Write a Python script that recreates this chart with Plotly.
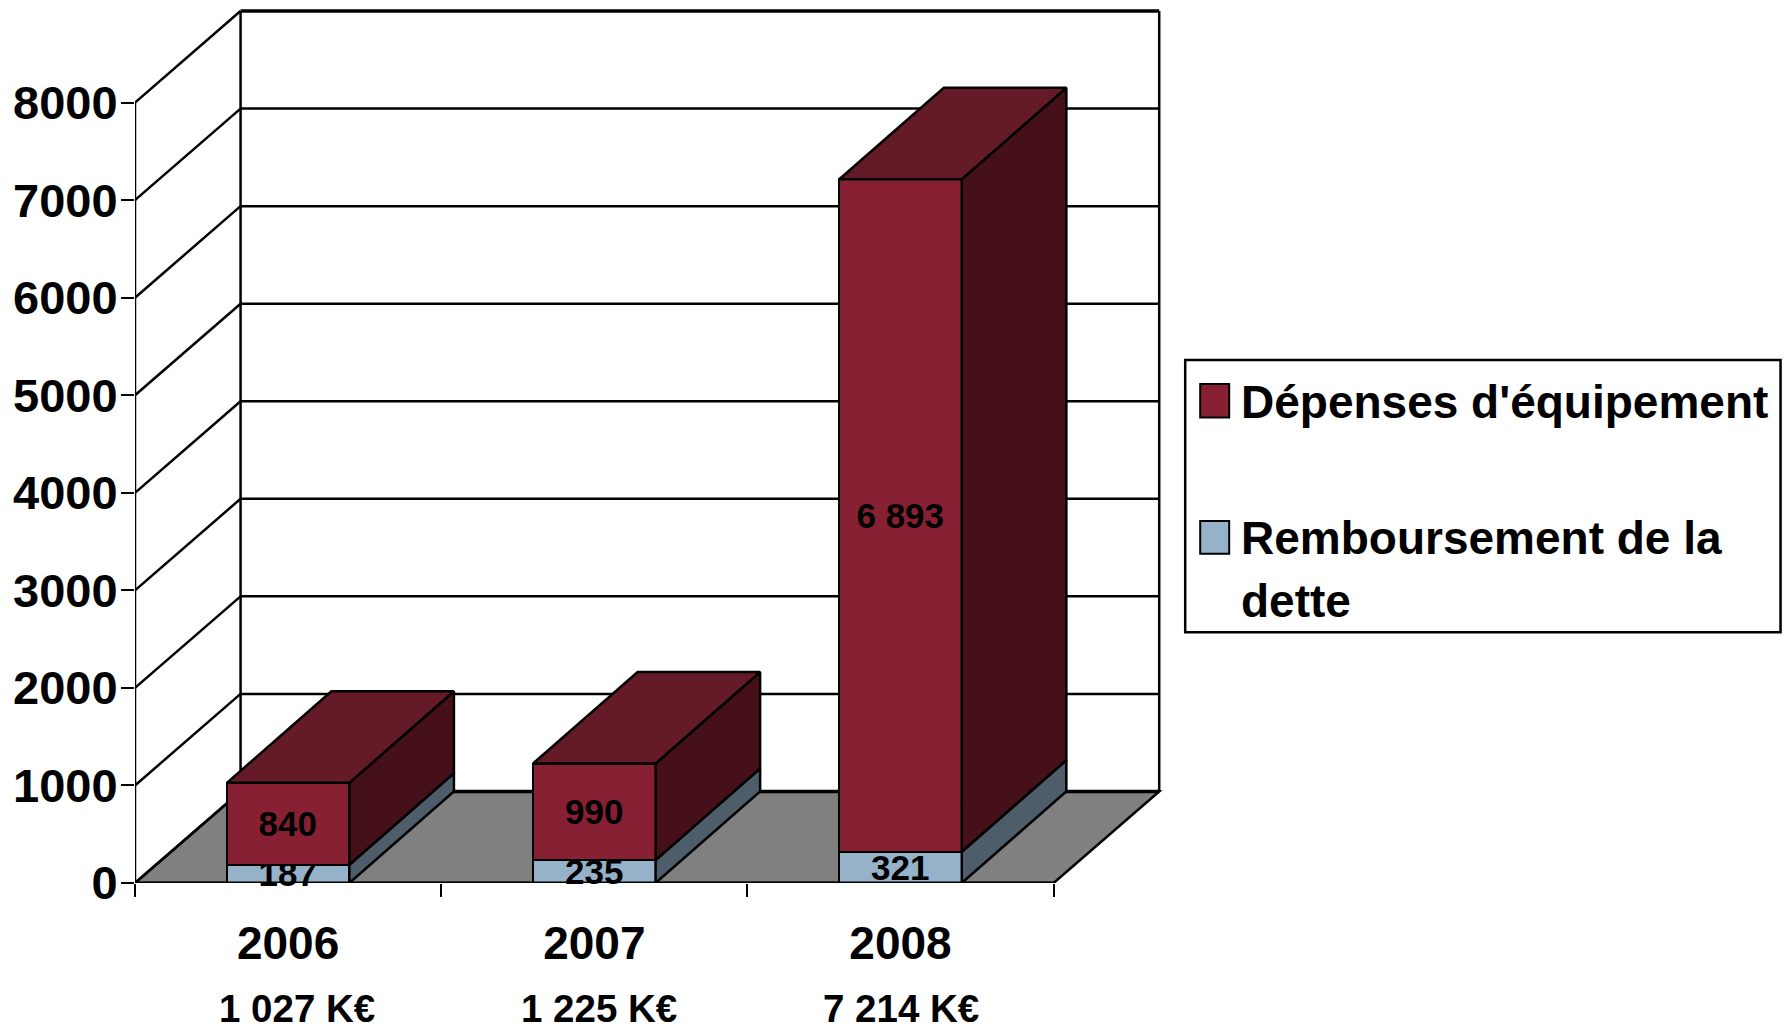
import plotly.graph_objects as go

# ---- data ----
years = ["2006", "2007", "2008"]
totals = ["1 027 K€", "1 225 K€", "7 214 K€"]
debt = [187, 235, 321]
equip = [840, 990, 6893]
equip_labels = ["840", "990", "6 893"]
debt_labels = ["187", "235", "321"]
y_ticks = [0, 1000, 2000, 3000, 4000, 5000, 6000, 7000, 8000]
legend_names = ["Dépenses d'équipement", "Remboursement de la", "dette"]

# ---- style ----
RED, RED_TOP, RED_SIDE = "#872033", "#641A27", "#451019"
BLUE, BLUE_SIDE = "#95B2C8", "#4D5D69"
FLOOR = "#808080"
FONT = "Liberation Sans"
W, H = 1789, 1032
PX_X0, PX_CAT = 134.5, 306.3       # left edge, pixels per category
PX_Y0, PX_UNIT = 883.3, 0.0976     # baseline, pixels per value unit
DX = 105.6 / PX_CAT                # depth of the 3D box in x units
DY = 91.6 / PX_UNIT                # depth of the 3D box in y units
BAR_DX = 104.6 / PX_CAT
BAR_W = 0.4
X_MAX = 3.38
Y_MAX = 8980
n = len(years)
centers = [i + 0.5 for i in range(n)]
label_x = [0.53, 1.516, 2.5]
ymax = y_ticks[-1]
EDGE = 2.5

fig = go.Figure()

# front faces: stacked bars
for vals, labels, col, name in [(debt, debt_labels, BLUE, "Remboursement de la dette"),
                                (equip, equip_labels, RED, legend_names[0])]:
    fig.add_trace(go.Bar(x=centers, y=vals, width=BAR_W, name=name, text=labels,
                         textposition="inside", insidetextanchor="middle", textangle=0,
                         constraintext="none", cliponaxis=False,
                         textfont=dict(family=FONT, size=35, color="black", weight="bold"),
                         marker=dict(color=col, line=dict(color="black", width=EDGE)),
                         showlegend=False))

def face(xs, ys, col):
    fig.add_trace(go.Scatter(x=xs, y=ys, mode="lines", fill="toself", fillcolor=col,
                             line=dict(color="black", width=EDGE), hoverinfo="skip",
                             showlegend=False, cliponaxis=False))

# side and top faces computed from the values
for c, d, e in zip(centers, debt, equip):
    r, l = c + BAR_W / 2, c - BAR_W / 2
    t = d + e
    face([r, r + BAR_DX, r + BAR_DX, r, r], [0, DY, d + DY, d, 0], BLUE_SIDE)
    face([r, r + BAR_DX, r + BAR_DX, r, r], [d, d + DY, t + DY, t, d], RED_SIDE)
    face([l, l + BAR_DX, r + BAR_DX, r, l], [t, t + DY, t + DY, t, t], RED_TOP)

# front axis lines
fig.add_trace(go.Scatter(x=[0, 0], y=[0, ymax], mode="lines", line=dict(color="black", width=EDGE),
                         hoverinfo="skip", showlegend=False, cliponaxis=False))
fig.add_trace(go.Scatter(x=[0, n], y=[0, 0], mode="lines", line=dict(color="black", width=3),
                         hoverinfo="skip", showlegend=False, cliponaxis=False))

# floor and walls, under everything
shapes = [dict(type="path", layer="below", line=dict(color="black", width=EDGE), fillcolor=FLOOR,
               path=f"M0,0 L{DX},{DY} L{n + DX},{DY} L{n},0 Z")]
def seg(x0, y0, x1, y1, w=EDGE):
    shapes.append(dict(type="line", layer="below", x0=x0, y0=y0, x1=x1, y1=y1,
                       line=dict(color="black", width=w)))
for v in y_ticks:
    wid = 3.5 if v in (0, ymax) else EDGE
    seg(0, v, DX, v + DY)
    seg(DX, v + DY, n + DX, v + DY, wid)
seg(DX, DY, DX, ymax + DY)
seg(n + DX, DY, n + DX, ymax + DY)

def px(x):
    return (x - PX_X0) / (PX_CAT * X_MAX)
def py(y):
    return (PX_Y0 - y) / (PX_UNIT * Y_MAX)

# legend box
shapes.append(dict(type="rect", xref="paper", yref="paper", x0=px(1185), x1=px(1780.5),
                   y0=py(360), y1=py(632.5), line=dict(color="black", width=2.5), fillcolor="white"))
shapes.append(dict(type="rect", xref="paper", yref="paper", x0=px(1200), x1=px(1229),
                   y0=py(384), y1=py(417.5), line=dict(color="black", width=2), fillcolor=RED))
shapes.append(dict(type="rect", xref="paper", yref="paper", x0=px(1200), x1=px(1229),
                   y0=py(521), y1=py(554), line=dict(color="black", width=2), fillcolor=BLUE))

annotations = []
for x, t in zip(label_x, totals):
    annotations.append(dict(x=x / X_MAX, y=py(1031), xref="paper", yref="paper", text=f"<b>{t}</b>",
                            showarrow=False, xanchor="center", yanchor="bottom", borderpad=0,
                            font=dict(family=FONT, size=38.5, color="black")))
for t, y in zip(legend_names, [402.5, 538.5, 601]):
    annotations.append(dict(x=px(1239), y=py(y), xref="paper", yref="paper", text=f"<b>{t}</b>",
                            showarrow=False, xanchor="left", yanchor="middle",
                            font=dict(family=FONT, size=46, color="black")))

fig.update_layout(
    width=W, height=H, autosize=False, barmode="stack", bargap=0,
    paper_bgcolor="white", plot_bgcolor="white", showlegend=False,
    margin=dict(l=PX_X0, r=W - PX_X0 - PX_CAT * X_MAX, b=H - PX_Y0, t=PX_Y0 - PX_UNIT * Y_MAX, pad=0, autoexpand=False),
    shapes=shapes, annotations=annotations,
    xaxis=dict(range=[0, X_MAX], tickmode="array", tickvals=centers, ticktext=years, ticks="",
               showgrid=False, zeroline=False, showline=False, ticklabelstandoff=29,
               tickfont=dict(family=FONT, size=46, color="black", weight="bold"),
               minor=dict(tickmode="array", tickvals=list(range(n + 1)), ticks="outside",
                          ticklen=13, tickwidth=2, tickcolor="black", showgrid=False)),
    yaxis=dict(range=[0, Y_MAX], tickmode="array", tickvals=y_ticks, ticks="outside", ticklen=13,
               tickwidth=2, tickcolor="black", showgrid=False, zeroline=False, showline=False,
               ticklabelstandoff=-6,
               tickfont=dict(family=FONT, size=47, color="black", weight="bold")),
)

fig.write_html("out.html", post_script="document.body.style.margin='0';",
               config=dict(displayModeBar=False))
